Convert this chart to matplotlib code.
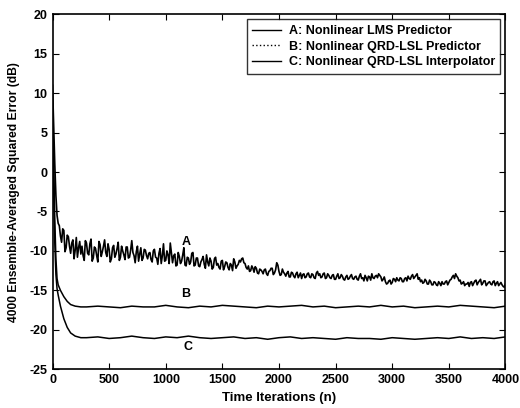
import numpy as np
import matplotlib
matplotlib.use("Agg")
import matplotlib.pyplot as plt
from matplotlib.lines import Line2D

plt.rcParams['font.family'] = ['Liberation Sans', 'DejaVu Sans']
plt.rcParams['font.weight'] = 'bold'
plt.rcParams['axes.unicode_minus'] = False

# curve A: nonlinear LMS predictor
n_a_early = [0, 10, 20, 30, 40, 50]
a_early = [11.0, 6.0, 1.0, -3.0, -5.5, -6.5]
# samples at n = 60, 80, ..., 4000
a_even = [
    -6.8, -8.9, -7.4, -9.6, -8.2, -10.3, -8.6, -9.9, -10.8, -8.8,
    -9.4, -11.2, -9.0, -10.5, -8.5, -10.9, -9.7, -11.4, -9.2, -10.1,
    -8.6, -10.7, -9.8, -11.0, -9.3, -10.4, -8.9, -10.8, -10.0, -11.1,
    -9.5, -10.8, -8.7, -10.6, -10.1, -11.3, -9.6, -10.9, -9.9, -11.0,
    -10.2, -11.4, -9.8, -10.9, -10.3, -11.6, -9.1, -11.2, -10.5, -9.0,
    -11.5, -10.4, -11.8, -10.7, -11.3, -9.6, -11.9, -10.9, -11.4, -10.2,
    -11.8, -10.9, -12.0, -11.1, -11.7, -10.5, -11.9, -11.3, -12.1, -10.8,
    -11.6, -12.3, -11.2, -12.0, -11.5, -12.4, -11.8, -11.0, -12.2, -11.7,
    -11.4, -10.9, -11.6, -12.3, -12.6, -11.9, -12.7, -12.2, -12.9, -12.4,
    -12.9, -12.3, -13.1, -12.5, -12.2, -12.8, -11.5, -12.6, -13.0, -12.7,
    -13.2, -12.6, -13.3, -12.8, -13.4, -12.7, -13.1, -13.5, -12.9, -13.3,
    -12.8, -13.4, -13.0, -13.5, -12.6, -12.9, -13.3, -12.8, -13.4, -13.1,
    -13.5, -13.0, -13.6, -12.9, -13.4, -13.2, -13.7, -13.1, -13.5, -13.0,
    -13.6, -13.2, -13.7, -12.9, -13.4, -13.1, -13.8, -13.3, -12.9, -13.5,
    -13.1, -12.9, -13.3, -13.6, -13.9, -14.1, -13.7, -14.0, -13.6, -13.4,
    -13.8, -13.5, -13.9, -13.4, -13.2, -13.6, -13.0, -13.3, -12.9, -13.4,
    -13.7, -14.0, -13.8, -14.2, -13.9, -14.3, -14.0, -14.4, -14.1, -13.9,
    -14.2, -13.8, -14.0, -13.6, -13.1, -12.9, -13.4, -13.7, -14.1, -14.4,
    -14.2, -14.5, -13.9, -14.1, -13.7, -14.0, -13.6, -14.1, -13.8, -14.2,
    -13.9, -14.3, -13.8, -14.1, -14.4, -14.0, -14.5, -14.2,
]
# samples at n = 70, 90, ..., 3990
a_odd = [
    -8.1, -7.2, -10.1, -8.0, -9.4, -9.0, -11.0, -8.3, -9.6, -10.4,
    -10.6, -8.7, -10.3, -9.1, -11.3, -9.5, -10.6, -8.8, -10.7, -9.4,
    -10.2, -9.1, -11.4, -9.6, -10.8, -9.7, -11.2, -9.4, -10.5, -9.5,
    -10.9, -9.9, -10.2, -11.5, -9.4, -10.4, -11.2, -9.8, -10.6, -10.3,
    -11.1, -10.0, -10.8, -11.7, -9.7, -10.6, -11.3, -10.0, -11.6, -10.3,
    -10.6, -11.9, -10.2, -11.6, -10.5, -11.8, -10.8, -11.7, -10.3, -11.9,
    -10.9, -11.9, -11.4, -10.7, -12.2, -11.4, -10.9, -12.3, -11.0, -11.8,
    -12.1, -11.3, -12.4, -11.4, -12.1, -11.6, -12.5, -11.4, -11.9, -11.2,
    -11.0, -11.5, -12.1, -11.9, -12.5, -12.2, -12.0, -12.8, -12.3, -12.6,
    -12.4, -12.9, -12.6, -12.2, -13.0, -12.4, -11.8, -13.1, -12.3, -12.9,
    -12.8, -13.3, -12.7, -13.2, -12.9, -13.4, -12.8, -13.0, -13.4, -12.9,
    -13.3, -12.9, -13.4, -12.8, -13.1, -13.4, -12.9, -13.5, -12.9, -13.4,
    -13.1, -13.6, -13.2, -13.5, -13.0, -13.6, -13.3, -13.6, -13.2, -13.5,
    -13.3, -13.6, -13.2, -13.5, -13.8, -13.4, -13.2, -13.7, -13.4, -13.2,
    -13.4, -13.1, -13.8, -13.3, -14.2, -13.8, -14.2, -13.5, -13.9, -13.7,
    -13.4, -13.9, -13.5, -13.8, -13.5, -13.2, -13.5, -13.1, -13.6, -13.9,
    -14.1, -13.6, -14.2, -13.7, -14.3, -13.9, -14.3, -13.9, -14.4, -14.2,
    -13.9, -14.3, -13.7, -13.3, -13.5, -13.2, -13.8, -14.2, -13.9, -14.2,
    -14.0, -14.0, -14.4, -13.8, -14.3, -13.8, -14.3, -13.8, -14.4, -14.0,
    -14.2, -13.9, -14.4, -13.9, -14.2, -14.3, -14.6,
]
n_a = np.array(n_a_early + list(range(60, 4001, 20)) + list(range(70, 4000, 20)))
a = np.array(a_early + a_even + a_odd)
order = np.argsort(n_a)
n_a, a = n_a[order], a[order]

# curves B and C: QRD-LSL predictor / interpolator
n_bc = [0, 10, 20, 30, 40, 50, 70, 100, 130, 160, 200, 250] + list(range(300, 4001, 100))
b = [9.0, 2.0, -6.0, -11.0, -13.5, -14.3, -15.0, -15.8, -16.4, -16.8, -17.0, -17.1,
     -17.1, -17.0, -17.1, -17.2, -17.0, -17.1, -17.1, -16.9, -17.1, -17.2,
     -17.0, -17.1, -16.9, -17.0, -17.1, -17.2, -17.0, -17.1, -17.0, -16.9,
     -17.1, -17.0, -17.2, -17.1, -17.0, -17.1, -16.9, -17.1, -17.0, -17.2,
     -17.1, -17.0, -17.1, -16.9, -17.0, -17.1, -17.2, -17.0]
c = [6.0, -2.0, -9.0, -13.0, -14.8, -15.6, -17.0, -18.6, -19.7, -20.4, -20.8, -21.0,
     -21.0, -20.9, -21.1, -21.0, -20.8, -21.0, -21.1, -20.9, -21.0, -20.8,
     -21.0, -21.1, -21.0, -20.9, -21.1, -21.0, -21.2, -21.0, -20.9, -21.1,
     -21.0, -21.1, -21.2, -21.0, -21.1, -21.1, -21.2, -21.0, -21.1, -21.2,
     -21.1, -21.0, -21.1, -20.9, -21.1, -21.0, -21.1, -20.9]

legend_labels = ['A: Nonlinear LMS Predictor',
                 'B: Nonlinear QRD-LSL Predictor',
                 'C: Nonlinear QRD-LSL Interpolator']

fig = plt.figure(figsize=(5.2, 4.08), dpi=100)
ax = fig.add_axes([0.101, 0.095, 0.871, 0.870])

ax.plot(n_a, a, color='black', lw=1.2)
ax.plot(n_bc, b, color='black', lw=1.1)
ax.plot(n_bc, c, color='black', lw=1.1)

ax.text(1180, -8.9, 'A', fontsize=9, fontweight='bold', ha='center', va='center')
ax.text(1180, -15.4, 'B', fontsize=9, fontweight='bold', ha='center', va='center')
ax.text(1200, -22.2, 'C', fontsize=9, fontweight='bold', ha='center', va='center')

ax.set_xlim(0, 4000)
ax.set_ylim(-25, 20)
ax.set_xticks(np.arange(0, 4001, 500))
ax.set_yticks(np.arange(-25, 21, 5))
ax.tick_params(direction='in', top=True, right=True, labelsize=9, length=4, width=0.8)
for sp in ax.spines.values():
    sp.set_linewidth(1.2)

ax.set_xlabel('Time Iterations (n)', fontsize=9.5, fontweight='bold', labelpad=4)
ax.set_ylabel('4000 Ensemble-Averaged Squared Error (dB)', fontsize=8.7,
              fontweight='bold', labelpad=7)

handles = [Line2D([], [], color='black', lw=1.0),
           Line2D([], [], color='black', lw=1.0, ls=':'),
           Line2D([], [], color='black', lw=1.0)]
leg = ax.legend(handles, legend_labels, loc='upper right', fontsize=9,
                frameon=True, fancybox=False, edgecolor='black',
                borderpad=0.45, labelspacing=0.3, handlelength=2.3,
                handletextpad=0.6, borderaxespad=0.4)
leg.get_frame().set_linewidth(1.0)
for t in leg.get_texts():
    t.set_fontweight('bold')

fig.savefig('out.png', dpi=100)
